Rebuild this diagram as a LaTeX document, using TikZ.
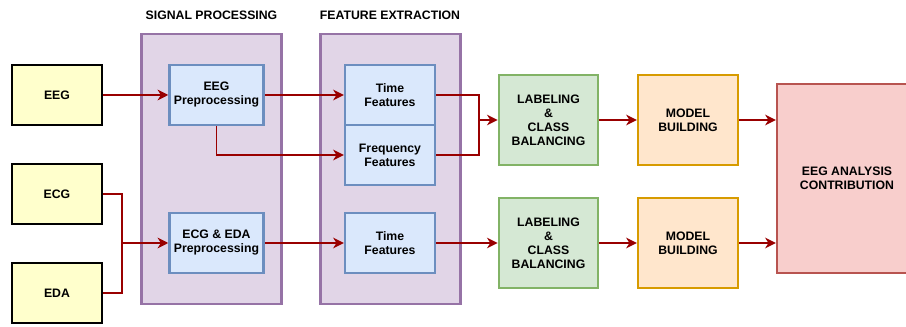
\documentclass[tikz,border=0pt]{standalone}
\usepackage{xcolor}
\usepackage{fontspec}
\setmainfont{Liberation Sans}
\usetikzlibrary{arrows.meta}

\definecolor{srcfill}{HTML}{FFFFCC}
\definecolor{grpfill}{HTML}{E1D5E7}
\definecolor{grpline}{HTML}{9673A6}
\definecolor{procfill}{HTML}{DAE8FC}
\definecolor{procline}{HTML}{6C8EBF}
\definecolor{labfill}{HTML}{D5E8D4}
\definecolor{labline}{HTML}{82B366}
\definecolor{modfill}{HTML}{FFE6CC}
\definecolor{modline}{HTML}{D79B00}
\definecolor{resfill}{HTML}{F8CECC}
\definecolor{resline}{HTML}{B85450}
\definecolor{arrred}{HTML}{990000}

\begin{document}
\begin{tikzpicture}[x=0.75pt,y=-0.75pt,
    every node/.style={font=\bfseries\fontsize{9.2}{10.5}\selectfont, align=center},
    srcbox/.style={draw=black, line width=2.2pt, fill=srcfill, minimum width=67.5pt, minimum height=45pt},
    group/.style={draw=grpline, line width=1.8pt, fill=grpfill, minimum width=105pt, minimum height=202.5pt},
    procbox/.style={draw=procline, line width=1.8pt, fill=procfill, minimum width=68pt, minimum height=45pt},
    labbox/.style={draw=labline, line width=1.8pt, fill=labfill, minimum width=74.5pt, minimum height=67.5pt},
    modbox/.style={draw=modline, line width=1.8pt, fill=modfill, minimum width=75pt, minimum height=67.5pt},
    resbox/.style={draw=resline, line width=1.8pt, fill=resfill, minimum width=105pt, minimum height=141.75pt},
    link/.style={draw=arrred, line width=1.3pt},
    arr/.style={link, -{Stealth[length=8pt,width=8pt,inset=2.5pt]}}]
    \useasboundingbox (0,0) rectangle (906,327);

    % Headings
    \node (sighead) at (211.5,15) {SIGNAL PROCESSING};
    \node (feathead) at (390,15) {FEATURE EXTRACTION};

    % Group boxes
    \node[group] (siggrp) at (211.5,169) {};
    \node[group] (featgrp) at (390.5,169) {};

    % Input signals
    \node[srcbox] (eeg) at (57,95) {EEG};
    \node[srcbox] (ecg) at (57,194) {ECG};
    \node[srcbox] (eda) at (57,293) {EDA};

    % Preprocessing
    \node[procbox] (eegpre) at (216.5,95) {EEG\\Preprocessing};
    \node[procbox] (ecgpre) at (216.5,243) {ECG \& EDA\\Preprocessing};

    % Features
    \node[procbox, minimum width=67.5pt] (eegtime) at (390,95) {Time\\Features};
    \node[procbox, minimum width=67.5pt] (eegfreq) at (390,155) {Frequency\\Features};
    \node[procbox, minimum width=67.5pt] (ecgtime) at (390,243) {Time\\Features};

    % Labeling, models, result
    \node[labbox] (eeglab) at (548.5,120) {LABELING\\\&\\CLASS\\BALANCING};
    \node[labbox] (ecglab) at (548.5,243) {LABELING\\\&\\CLASS\\BALANCING};
    \node[modbox] (eegmod) at (688,120) {MODEL\\BUILDING};
    \node[modbox] (ecgmod) at (688,243) {MODEL\\BUILDING};
    \node[resbox] (result) at (847,178.5) {EEG ANALYSIS\\CONTRIBUTION};

    % Junction points
    \coordinate (eegjoin) at (479,120);
    \coordinate (ecgjoin) at (122,243);

    % EEG branch
    \draw[arr] (eeg) -- (eegpre);
    \draw[arr] (eegpre) -- (eegtime);
    \draw[arr] (eegpre.south) |- (eegfreq.west);
    \draw[link] (eegtime.east) -| (eegjoin);
    \draw[link] (eegfreq.east) -| (eegjoin);
    \draw[arr] (eegjoin) -- (eeglab.west);
    \draw[arr] (eeglab) -- (eegmod);
    \draw[arr] (eegmod.east) -- (eegmod.east -| result.west);

    % ECG and EDA branch
    \draw[link] (ecg.east) -| (ecgjoin);
    \draw[link] (eda.east) -| (ecgjoin);
    \draw[arr] (ecgjoin) -- (ecgpre.west);
    \draw[arr] (ecgpre) -- (ecgtime);
    \draw[arr] (ecgtime) -- (ecglab);
    \draw[arr] (ecglab) -- (ecgmod);
    \draw[arr] (ecgmod.east) -- (ecgmod.east -| result.west);
\end{tikzpicture}
\end{document}
